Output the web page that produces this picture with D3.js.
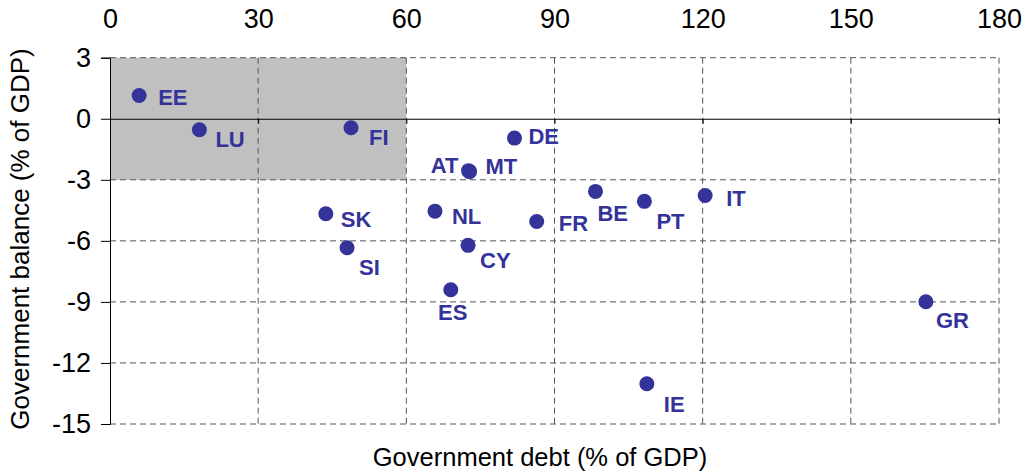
<!DOCTYPE html>
<html>
<head>
<meta charset="utf-8">
<script src="https://cdn.jsdelivr.net/npm/d3@7"></script>
<style>
  body { margin: 0; background: #fff; }
  svg text { font-family: "Liberation Sans", Arial, sans-serif; }
</style>
</head>
<body>
<div id="chart"></div>
<script>
// country codes, debt (% of GDP), balance (% of GDP)
const countries = ["EE", "LU", "FI", "AT", "MT", "SK", "NL", "DE", "BE", "PT", "IT", "FR", "SI", "CY", "ES", "GR", "IE"];
const debt    = [5.9, 18.1, 48.8, 72.6, 72.8, 43.7, 65.8, 81.9, 98.3, 108.2, 120.5, 86.4, 48.0, 72.5, 69.0, 165.2, 108.7];
const balance = [1.14, -0.54, -0.44, -2.55, -2.6, -4.67, -4.54, -0.95, -3.57, -4.06, -3.77, -5.05, -6.34, -6.22, -8.4, -8.99, -13.02];
const xTicks = [0, 30, 60, 90, 120, 150, 180];
const yTicks = [3, 0, -3, -6, -9, -12, -15];

// label placement relative to each dot
const labelPos = {
  EE: [19, 9, "start"], LU: [16, 17, "start"], FI: [18, 17, "start"],
  AT: [-10, 2, "end"], MT: [16, 2, "start"], SK: [15, 13, "start"],
  NL: [17, 13, "start"], DE: [14, 6, "start"], BE: [2, 30, "start"],
  PT: [12, 28, "start"], IT: [21, 11, "start"], FR: [22, 9, "start"],
  SI: [12, 27, "start"], CY: [12, 23, "start"], ES: [2, 30, "middle"],
  GR: [10, 26, "start"], IE: [17, 28, "start"]
};

const W = 1032, H = 472;
const svg = d3.select("#chart").append("svg")
  .attr("width", W).attr("height", H);

const x = d3.scaleLinear().domain([0, 180]).range([110, 999]);
const y = d3.scaleLinear().domain([-15, 3]).range([424, 57.7]);

// shaded target zone
svg.append("rect")
  .attr("x", x(0)).attr("y", y(3))
  .attr("width", x(60) - x(0)).attr("height", y(-3) - y(3))
  .attr("fill", "#c0c0c0");

// dashed grid
const grid = svg.append("g")
  .attr("stroke", "#555").attr("stroke-width", 1).attr("stroke-dasharray", "6,4");
grid.selectAll(".vg").data(xTicks.slice(1)).enter().append("line")
  .attr("x1", d => x(d)).attr("x2", d => x(d))
  .attr("y1", y(3)).attr("y2", y(-15));
grid.selectAll(".hg").data(yTicks.filter(d => d !== 0)).enter().append("line")
  .attr("x1", x(0)).attr("x2", x(180))
  .attr("y1", d => y(d)).attr("y2", d => y(d));

// zero line with ticks
svg.append("g")
  .attr("transform", `translate(0,${y(0)})`)
  .call(d3.axisBottom(x).tickValues(xTicks).tickSize(5).tickFormat(""))
  .call(g => g.selectAll("path,line").attr("stroke", "#000"));

// left axis
svg.append("g")
  .attr("transform", `translate(${x(0)},0)`)
  .call(d3.axisLeft(y).tickValues(yTicks).tickSize(9).tickSizeOuter(9).tickPadding(10)
    .tickFormat(d => String(d)))
  .call(g => g.selectAll("path,line").attr("stroke", "#000"))
  .call(g => g.selectAll("text").attr("font-size", 27).attr("fill", "#000")
    .attr("font-family", "Liberation Sans, Arial, sans-serif"));

// top tick labels
svg.append("g")
  .attr("transform", `translate(0,${y(3)})`)
  .call(d3.axisTop(x).tickValues(xTicks).tickSize(0).tickPadding(30))
  .call(g => g.select(".domain").remove())
  .call(g => g.selectAll("text").attr("font-size", 27).attr("fill", "#000")
    .attr("font-family", "Liberation Sans, Arial, sans-serif"));

// axis titles
svg.append("text")
  .attr("x", 540).attr("y", 466)
  .attr("text-anchor", "middle").attr("font-size", 25.5)
  .text("Government debt (% of GDP)");
svg.append("text")
  .attr("transform", `translate(29,239) rotate(-90)`)
  .attr("text-anchor", "middle").attr("font-size", 26)
  .text("Government balance (% of GDP)");

// points
const pts = countries.map((c, i) => ({ c, x: debt[i], y: balance[i] }));
svg.selectAll(".dot").data(pts).enter().append("circle")
  .attr("cx", d => x(d.x)).attr("cy", d => y(d.y))
  .attr("r", 7.5).attr("fill", "#333399");
svg.selectAll(".lbl").data(pts).enter().append("text")
  .attr("x", d => x(d.x) + labelPos[d.c][0])
  .attr("y", d => y(d.y) + labelPos[d.c][1])
  .attr("text-anchor", d => labelPos[d.c][2])
  .attr("font-size", 22).attr("font-weight", "bold")
  .attr("fill", "#333399")
  .text(d => d.c);
</script>
</body>
</html>
